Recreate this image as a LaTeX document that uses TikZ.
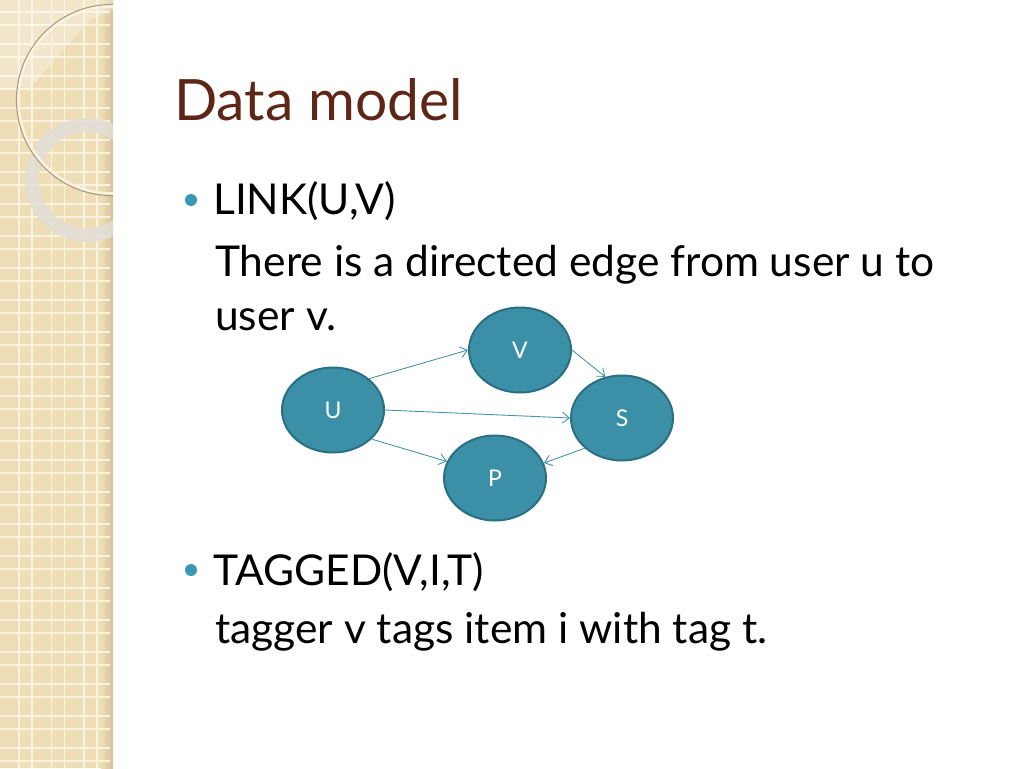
\documentclass[tikz,border=0pt]{standalone}
\usepackage{fontspec}
\setmainfont{Lato}
\usetikzlibrary{arrows.meta,shapes.geometric,positioning}

\definecolor{bandbg}{HTML}{EFDDB5}
\definecolor{bandline}{HTML}{FBF3E1}
\definecolor{bandshade}{HTML}{D6C39C}
\definecolor{ringcol}{HTML}{E2DED8}
\definecolor{titlecol}{HTML}{5E2617}
\definecolor{nodefill}{HTML}{3B8FA6}
\definecolor{nodeline}{HTML}{2A6F82}
\definecolor{edgecol}{HTML}{4A93A8}
\definecolor{bulletcol}{HTML}{3A98B5}

\begin{document}
\begin{tikzpicture}[x=1pt,y=-1pt,
  mynode/.style={draw=nodeline,line width=2pt,fill=nodefill,ellipse,
    minimum width=102pt,minimum height=85pt,inner sep=0pt,
    text=white,font=\fontsize{23}{26}\selectfont},
  arrow/.style={-{Straight Barb[length=7pt,width=11pt]},edgecol,line width=0.9pt},
  bodytext/.style={anchor=base west,inner sep=0pt,font=\fontsize{42.5}{48}\selectfont},
  bullet/.style={circle,fill=bulletcol,inner sep=0pt,minimum size=12pt}]

  \useasboundingbox (0,0) rectangle (1024,768);

  % left band
  \fill[bandbg] (0,0) rectangle (113,768);
  \shade[left color=bandbg,right color=bandshade] (101,0) rectangle (113,768);
  \foreach \k in {0,...,24} {
    \draw[bandline,line width=1.3pt] (0,32*\k+12) -- (110,32*\k+12);
    \draw[bandline,line width=1.3pt] (0,32*\k+25) -- (110,32*\k+25);
  }
  \foreach \k in {0,1,2} {
    \draw[bandline,line width=1.3pt] (32.5*\k+19,0) -- (32.5*\k+19,768);
    \draw[bandline,line width=1.3pt] (32.5*\k+32,0) -- (32.5*\k+32,768);
  }
  \begin{scope}
    \clip (0,0) rectangle (113,768);
    \fill[white,opacity=0.3] (0,0) -- (113,0) -- (113,10) -- (90,20)
      -- (30,88) -- (0,90) -- cycle;
    \draw[ringcol,opacity=0.85,line width=14pt] (87,180) circle (55);
    \draw[color=bandshade!80!black,line width=1.2pt] (112,100) circle (95.5);
    \draw[bandline,line width=2.5pt] (112,100) circle (93.5);
  \end{scope}

  % title and bullets
  \node[anchor=base west,inner sep=0pt,text=titlecol,
    font=\fontsize{57}{64}\selectfont] (title) at (174,120) {Data model};

  \node[bullet] (b1) at (191,200) {};
  \node[bodytext] (link) at (213,214) {LINK(U,V)};
  \node[bodytext] (linkdesc) at (215,276) {There is a directed edge from user u to};
  \node[bodytext] (linkdesc2) at (215,330) {user v.};

  \node[bullet] (b2) at (191,570) {};
  \node[bodytext] (tagged) at (213,585) {TAGGED(V,I,T)};
  \node[bodytext] (taggeddesc) at (215,643) {tagger v tags item i with tag t.};

  % graph
  \node[mynode] (U) at (333,410) {U};
  \node[mynode] (V) at (520,350) {V};
  \node[mynode] (S) at (622,418) {S};
  \node[mynode] (P) at (495,478) {P};

  \draw[arrow] (U.41) -- (V.180);
  \draw[arrow] (V.0) -- (S.112);
  \draw[arrow] (U.0) -- (S.180);
  \draw[arrow] (U.-37) -- (P.161);
  \draw[arrow] (S.219) -- (P.17);
\end{tikzpicture}
\end{document}
